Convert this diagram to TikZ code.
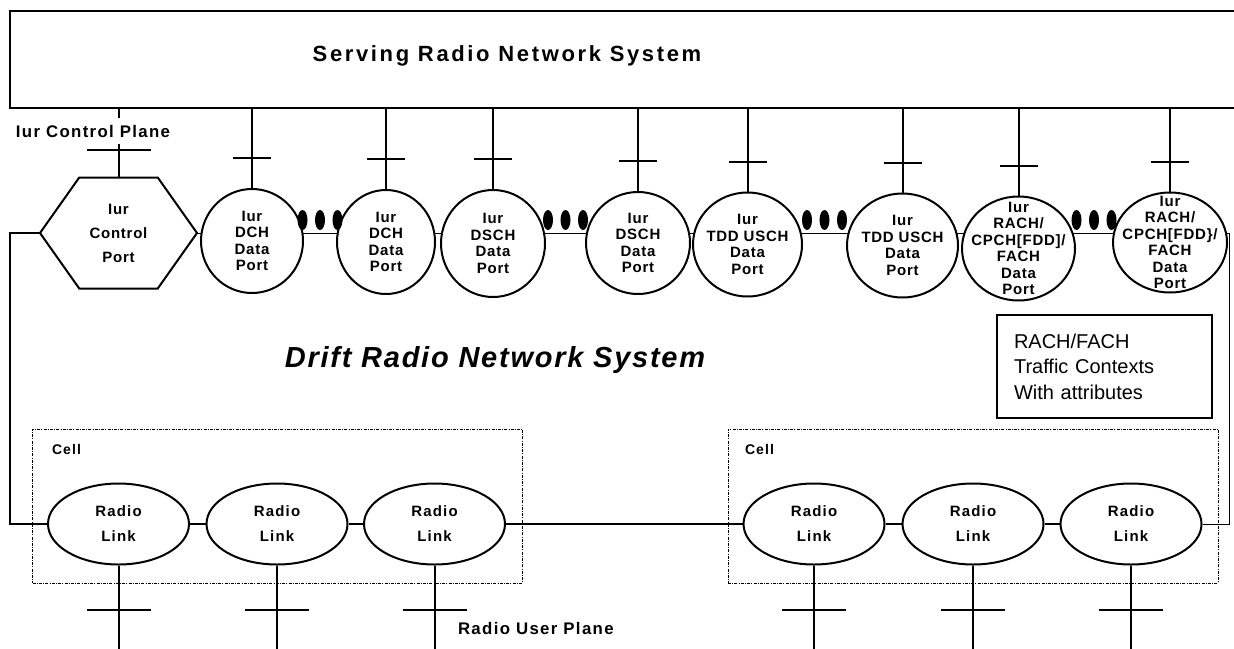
\documentclass[tikz,border=0pt]{standalone}
\usepackage{fontspec}
\setmainfont{Liberation Sans}
\newfontfamily\lblfont[LetterSpace=8]{Liberation Sans}
\newfontfamily\portfont[LetterSpace=5]{Liberation Sans}
\newfontfamily\titlefont[LetterSpace=12]{Liberation Sans}
\newfontfamily\driftfont[LetterSpace=6]{Liberation Sans}
\usetikzlibrary{shapes.geometric,calc,backgrounds}

\begin{document}
\begin{tikzpicture}[x=0.5pt,y=-0.5pt,line width=1pt,
port/.style = {ellipse,draw,fill=white,inner sep=0pt,minimum height=52pt},
porttext/.style = {inner sep=0pt,align=center,font=\portfont\bfseries\fontsize{7.5}{8.2}\selectfont},
radiolink/.style = {ellipse,draw,fill=white,inner sep=0pt,align=center,minimum width=70.5pt,minimum height=40.5pt,font=\lblfont\bfseries\fontsize{7.5}{12.5}\selectfont},
cellbox/.style = {draw,line width=0.5pt,dash pattern=on 1.5pt off 0.6pt on 0.5pt off 0.6pt,minimum width=245pt,minimum height=77pt},
lbl/.style = {inner sep=0pt,font=\lblfont\bfseries\fontsize{8.4}{10}\selectfont}]
\useasboundingbox (0,0) rectangle (1234,648);
\clip (0,0) rectangle (1234,648);

% serving system
\node[draw,minimum width=615pt,minimum height=48.5pt,inner sep=0pt] (srns) at (625,59.5) {};
\node[font=\titlefont\bfseries\fontsize{11}{13}\selectfont] (srnstitle) at (507,56) {Serving Radio Network System};

% control port
\node[minimum width=77.5pt,minimum height=54.5pt,inner sep=0pt,align=center,font=\portfont\bfseries\fontsize{7.5}{12}\selectfont] (ctrl) at (118.5,233) {Iur\\Control\\Port};
\draw (ctrl.west) -- ($(ctrl.north west)!0.25!(ctrl.north east)$) -- ($(ctrl.north west)!0.75!(ctrl.north east)$) -- (ctrl.east) -- ($(ctrl.south west)!0.75!(ctrl.south east)$) -- ($(ctrl.south west)!0.25!(ctrl.south east)$) -- cycle;
\draw (ctrl.north) -- (ctrl.north |- srns.south);
\draw ([yshift=14pt]ctrl.north) +(-32,0) -- +(32,0);
\node[lbl,fill=white,minimum height=13pt] (ctrlplane) at (93,131) {Iur Control Plane};

% data ports
\node[port,minimum width=51pt,label={[porttext]center:{Iur\\DCH\\Data\\Port}}] (p1) at (252,241) {};
\node[port,minimum width=49pt,label={[porttext]center:{Iur\\DCH\\Data\\Port}}] (p2) at (386,242) {};
\node[port,minimum width=52pt,minimum height=53.5pt,label={[porttext]center:{Iur\\DSCH\\Data\\Port}}] (p3) at (493,243.5) {};
\node[port,minimum width=52pt,minimum height=51pt,label={[porttext]center:{Iur\\DSCH\\Data\\Port}}] (p4) at (638,243) {};
\node[port,minimum width=54.5pt,label={[porttext]center:{Iur\\TDD USCH\\Data\\Port}}] (p5) at (747.5,244.5) {};
\node[port,minimum width=55.5pt,label={[porttext]center:{Iur\\TDD USCH\\Data\\Port}}] (p6) at (902.5,245.5) {};
\node[port,minimum width=56.5pt,label={[porttext]center:{Iur\\RACH/\\CPCH[FDD]/\\FACH\\Data\\Port}}] (p7) at (1018.5,248.5) {};
\node[port,minimum width=57pt,minimum height=50pt,label={[porttext]center:{Iur\\RACH/\\CPCH[FDD\}/\\FACH\\Data\\Port}}] (p8) at (1170,242.5) {};

\foreach \p in {p1,p2,p3,p4,p5,p6,p7,p8} {
  \draw (\p.north) -- (\p.north |- srns.south);
  \draw ([yshift=15pt]\p.north) +(-19,0) -- +(19,0);
}

% dots
\foreach \a/\b in {p1/p2,p3/p4,p5/p6,p7/p8} {
  \path ($(\a.east)!0.5!(\b.west)$) coordinate (m);
  \foreach \d in {-17.5,0,17.5}
    \fill (m |- ctrl) ++(\d,-13) ellipse [x radius=2.5pt,y radius=5pt];
}

% cells and radio links
\node[cellbox] (cell1) at (277.5,506) {};
\node[cellbox] (cell2) at (973,506) {};
\node[lbl,font=\lblfont\bfseries\fontsize{7}{8}\selectfont,anchor=west] (cell1name) at (51,449) {Cell};
\node[lbl,font=\lblfont\bfseries\fontsize{7}{8}\selectfont,anchor=west] (cell2name) at (744,449) {Cell};

\node[radiolink] (rl1) at (118.5,524) {Radio\\Link};
\node[radiolink] (rl2) at (277,524) {Radio\\Link};
\node[radiolink] (rl3) at (434.5,524) {Radio\\Link};
\node[radiolink] (rl4) at (814,524) {Radio\\Link};
\node[radiolink] (rl5) at (973,524) {Radio\\Link};
\node[radiolink] (rl6) at (1131,524) {Radio\\Link};

\foreach \a/\b in {rl1/rl2,rl2/rl3,rl3/rl4,rl4/rl5,rl5/rl6}
  \draw (\a) -- (\b);

\coordinate (floor) at (0,660);
\foreach \r in {rl1,rl2,rl3,rl4,rl5,rl6} {
  \draw (\r.south) -- (\r.south |- floor);
  \draw ([yshift=-22pt]\r.south) +(-32,0) -- +(32,0);
}

% links between ports and down to the cells
\coordinate (lc) at (10,524);
\coordinate (rc) at (1229,524);
\begin{scope}[on background layer]
\draw (ctrl.east) -- (p1 |- ctrl);
\foreach \a/\b in {p1/p2,p2/p3,p3/p4,p4/p5,p5/p6,p6/p7,p7/p8}
  \draw (\a |- ctrl) -- (\b |- ctrl);
\draw (p8 |- ctrl) -| (rc) -- (rl6);
\end{scope}
\draw (ctrl.west) -| (lc) -- (rl1);

\node[lbl,anchor=west] (userplane) at (457,628) {Radio User Plane};
\node[font=\driftfont\bfseries\itshape\fontsize{14.5}{17}\selectfont] (drns) at (495,360) {Drift Radio Network System};
\node[draw,align=left,text width=90.5pt,inner xsep=8.5pt,inner ysep=0pt,minimum height=51.5pt,font=\fontsize{10}{12.75}\selectfont] (ctxbox) at (1104.5,366.5) {RACH/FACH\\Traffic Contexts\\With attributes};
\end{tikzpicture}
\end{document}
